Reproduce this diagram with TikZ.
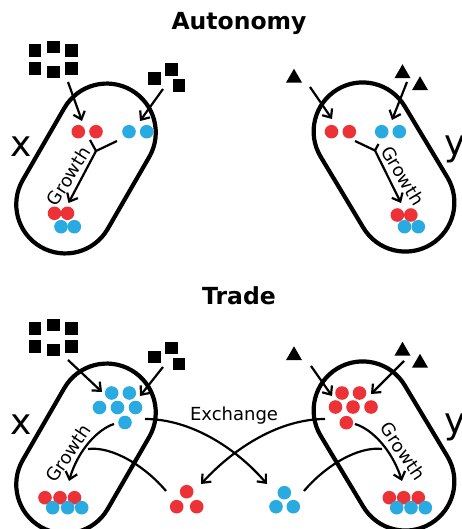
\documentclass[tikz,border=0pt]{standalone}
\usepackage{fontspec}
\setmainfont{DejaVu Sans}
\usetikzlibrary{arrows.meta,shapes.geometric,shapes.misc}
\definecolor{dred}{RGB}{237,50,55}
\definecolor{dblue}{RGB}{41,171,226}
\begin{document}
\begin{tikzpicture}[x=1pt,y=-1pt,
  stadium/.style={draw, line width=4.2pt, rounded rectangle, minimum width=181pt, minimum height=98pt, inner sep=0pt},
  dotn/.style={circle, inner sep=0pt, minimum size=13.6pt},
  rd/.style={dotn, fill=dred},
  bd/.style={dotn, fill=dblue},
  sqn/.style={fill=black, inner sep=0pt, minimum size=12.5pt},
  trin/.style={regular polygon, regular polygon sides=3, fill=black, inner sep=0pt, minimum size=18.5pt},
  arr/.style={line width=2.2pt, -{Straight Barb[length=7pt,width=12pt]}},
  ln/.style={line width=2.2pt},
  ttl/.style={font=\fontsize{23.5}{27}\selectfont\bfseries, anchor=base},
  lbl/.style={font=\fontsize{18}{20}\selectfont},
  big/.style={font=\fontsize{36}{40}\selectfont}]
\useasboundingbox (0,0) rectangle (462,529);

% ================= Autonomy =================
\node[ttl] (t1) at (239,29.5) {Autonomy};
\node[stadium, rotate=60] (sx1) at (86,168.5) {};
\node[stadium, rotate=-59] (sy1) at (384,167) {};
\node[big] (x1) at (21,147) {x};
\node[big] (y1) at (455,149) {y};

% squares
\node[sqn] (s1a) at (35,50.5) {};
\node[sqn] (s1b) at (53.3,47) {};
\node[sqn] (s1c) at (71.7,50.5) {};
\node[sqn] (s1d) at (35,68.5) {};
\node[sqn] (s1e) at (53.3,72) {};
\node[sqn] (s1f) at (71.7,68.5) {};
\node[sqn] (s1g) at (154.5,78.5) {};
\node[sqn] (s1h) at (171.7,69.5) {};
\node[sqn] (s1i) at (179.2,85.5) {};
% triangles
\node[trin] (t1a) at (294,78) {};
\node[trin] (t1b) at (402.5,73.5) {};
\node[trin] (t1c) at (420,85.5) {};

% dots left
\node[rd] (r1a) at (78.3,131.7) {};
\node[rd] (r1b) at (96,131.7) {};
\node[bd] (b1a) at (129,131.7) {};
\node[bd] (b1b) at (146.7,131.7) {};
\node[rd] (r1c) at (54.5,213.3) {};
\node[rd] (r1d) at (67.5,213.3) {};
\node[bd] (b1c) at (61,226.7) {};
\node[bd] (b1d) at (74.3,226.7) {};
% dots right
\node[rd] (r2a) at (331.5,131.7) {};
\node[rd] (r2b) at (349.3,131.7) {};
\node[bd] (b2a) at (381.7,131.7) {};
\node[bd] (b2b) at (399.3,131.7) {};
\node[rd] (r2c) at (397.3,215) {};
\node[rd] (r2d) at (410.8,215) {};
\node[bd] (b2c) at (404.5,226.7) {};
\node[bd] (b2d) at (418.3,226.7) {};

% input arrows
\coordinate (a1s) at (68,82);  \coordinate (a1e) at (82,121);
\coordinate (a2s) at (163,89); \coordinate (a2e) at (140,121);
\coordinate (a3s) at (310,87); \coordinate (a3e) at (332,119);
\coordinate (a4s) at (407,82); \coordinate (a4e) at (392,120);
\draw[arr] (a1s) -- (a1e);
\draw[arr] (a2s) -- (a2e);
\draw[arr] (a3s) -- (a3e);
\draw[arr] (a4s) -- (a4e);

% growth merges
\coordinate (m1a) at (90,140); \coordinate (m1j) at (96,151); \coordinate (m1b) at (117,141);
\coordinate (g1e) at (68.5,203);
\draw[ln] (m1a) -- (m1j) -- (m1b);
\draw[arr] (m1j) -- (g1e);
\node[lbl, rotate=58] (gl1) at (68.5,176) {Growth};

\coordinate (m2a) at (355,141); \coordinate (m2j) at (375,150.5); \coordinate (m2b) at (378.5,144);
\coordinate (g2e) at (401,203);
\draw[ln] (m2a) -- (m2j) -- (m2b);
\draw[arr] (m2j) -- (g2e);
\node[lbl, rotate=-59] (gl2) at (403,175.5) {Growth};

% ================= Trade =================
\node[ttl] (t2) at (239,304.5) {Trade};
\node[stadium, rotate=60] (sx2) at (86,448.5) {};
\node[stadium, rotate=-59] (sy2) at (384,446) {};
\node[big] (x2) at (21,425) {x};
\node[big] (y2) at (455,427) {y};

\node[sqn] (s2a) at (35,328.5) {};
\node[sqn] (s2b) at (53.3,325) {};
\node[sqn] (s2c) at (71.7,328.5) {};
\node[sqn] (s2d) at (35,346.5) {};
\node[sqn] (s2e) at (53.3,350) {};
\node[sqn] (s2f) at (71.7,346.5) {};
\node[sqn] (s2g) at (154.5,357) {};
\node[sqn] (s2h) at (171.7,348) {};
\node[sqn] (s2i) at (179.2,364) {};
\node[trin] (t2a) at (294,355.5) {};
\node[trin] (t2b) at (402.5,351) {};
\node[trin] (t2c) at (420,363) {};

% left blue cluster
\node[bd] (c1a) at (111.7,393) {};
\node[bd] (c1b) at (129.3,393) {};
\node[bd] (c1c) at (99.5,407.5) {};
\node[bd] (c1d) at (117.5,407.5) {};
\node[bd] (c1e) at (135.5,407.5) {};
\node[bd] (c1f) at (125,422.5) {};
% right red cluster
\node[rd] (c2a) at (342,393) {};
\node[rd] (c2b) at (359.5,393) {};
\node[rd] (c2c) at (335.5,407) {};
\node[rd] (c2d) at (353,407) {};
\node[rd] (c2e) at (371,407) {};
\node[rd] (c2f) at (346.3,422.7) {};
% left bottom rows
\node[rd] (l1) at (45,497.7) {};
\node[rd] (l2) at (60,497.7) {};
\node[rd] (l3) at (74.5,497.7) {};
\node[bd] (l4) at (52.7,507.7) {};
\node[bd] (l5) at (67.7,507.7) {};
\node[bd] (l6) at (81.7,507.7) {};
% right bottom rows
\node[rd] (q1) at (389.3,497.7) {};
\node[rd] (q2) at (403.7,497.7) {};
\node[rd] (q3) at (418.3,497.7) {};
\node[bd] (q4) at (396.7,507.7) {};
\node[bd] (q5) at (411,507.7) {};
\node[bd] (q6) at (425.3,507.7) {};
% exchanged triads
\node[rd] (e1) at (186.7,491.7) {};
\node[rd] (e2) at (176.7,506.7) {};
\node[rd] (e3) at (196.7,506.7) {};
\node[bd] (f1) at (284.3,492.7) {};
\node[bd] (f2) at (276,506.7) {};
\node[bd] (f3) at (293.3,506.7) {};

% input arrows
\coordinate (a5s) at (68,360);  \coordinate (a5e) at (102,392);
\coordinate (a6s) at (163,367); \coordinate (a6e) at (140,396);
\coordinate (a7s) at (311,366); \coordinate (a7e) at (332,396);
\coordinate (a8s) at (404,361); \coordinate (a8e) at (371,394);
\draw[arr] (a5s) -- (a5e);
\draw[arr] (a6s) -- (a6e);
\draw[arr] (a7s) -- (a7e);
\draw[arr] (a8s) -- (a8e);

% growth arrows
\coordinate (g3s) at (114,424); \coordinate (g3e) at (69,481);
\draw[arr] (g3s) .. controls (98,429) and (78,450) .. (g3e);
\node[lbl, rotate=56] (gl3) at (68,453) {Growth};
\coordinate (g4s) at (355,424); \coordinate (g4e) at (402,481);
\draw[arr] (g4s) .. controls (372,429) and (392,450) .. (g4e);
\node[lbl, rotate=-56] (gl4) at (403,451) {Growth};

% exchange
\coordinate (x1s) at (145,419); \coordinate (x1e) at (267,484);
\draw[arr] (x1s) .. controls (190,419) and (235,447) .. (x1e);
\coordinate (x2s) at (325,419); \coordinate (x2e) at (201,484);
\draw[arr] (x2s) .. controls (280,419) and (235,447) .. (x2e);
\node[lbl, anchor=base] (ex) at (234,420) {Exchange};

% joins into growth
\coordinate (j1s) at (166,491); \coordinate (j1e) at (88,449);
\draw[ln] (j1s) .. controls (145,466) and (112,446) .. (j1e);
\coordinate (j2s) at (304,491); \coordinate (j2e) at (382,449);
\draw[ln] (j2s) .. controls (325,466) and (358,446) .. (j2e);
\end{tikzpicture}
\end{document}
